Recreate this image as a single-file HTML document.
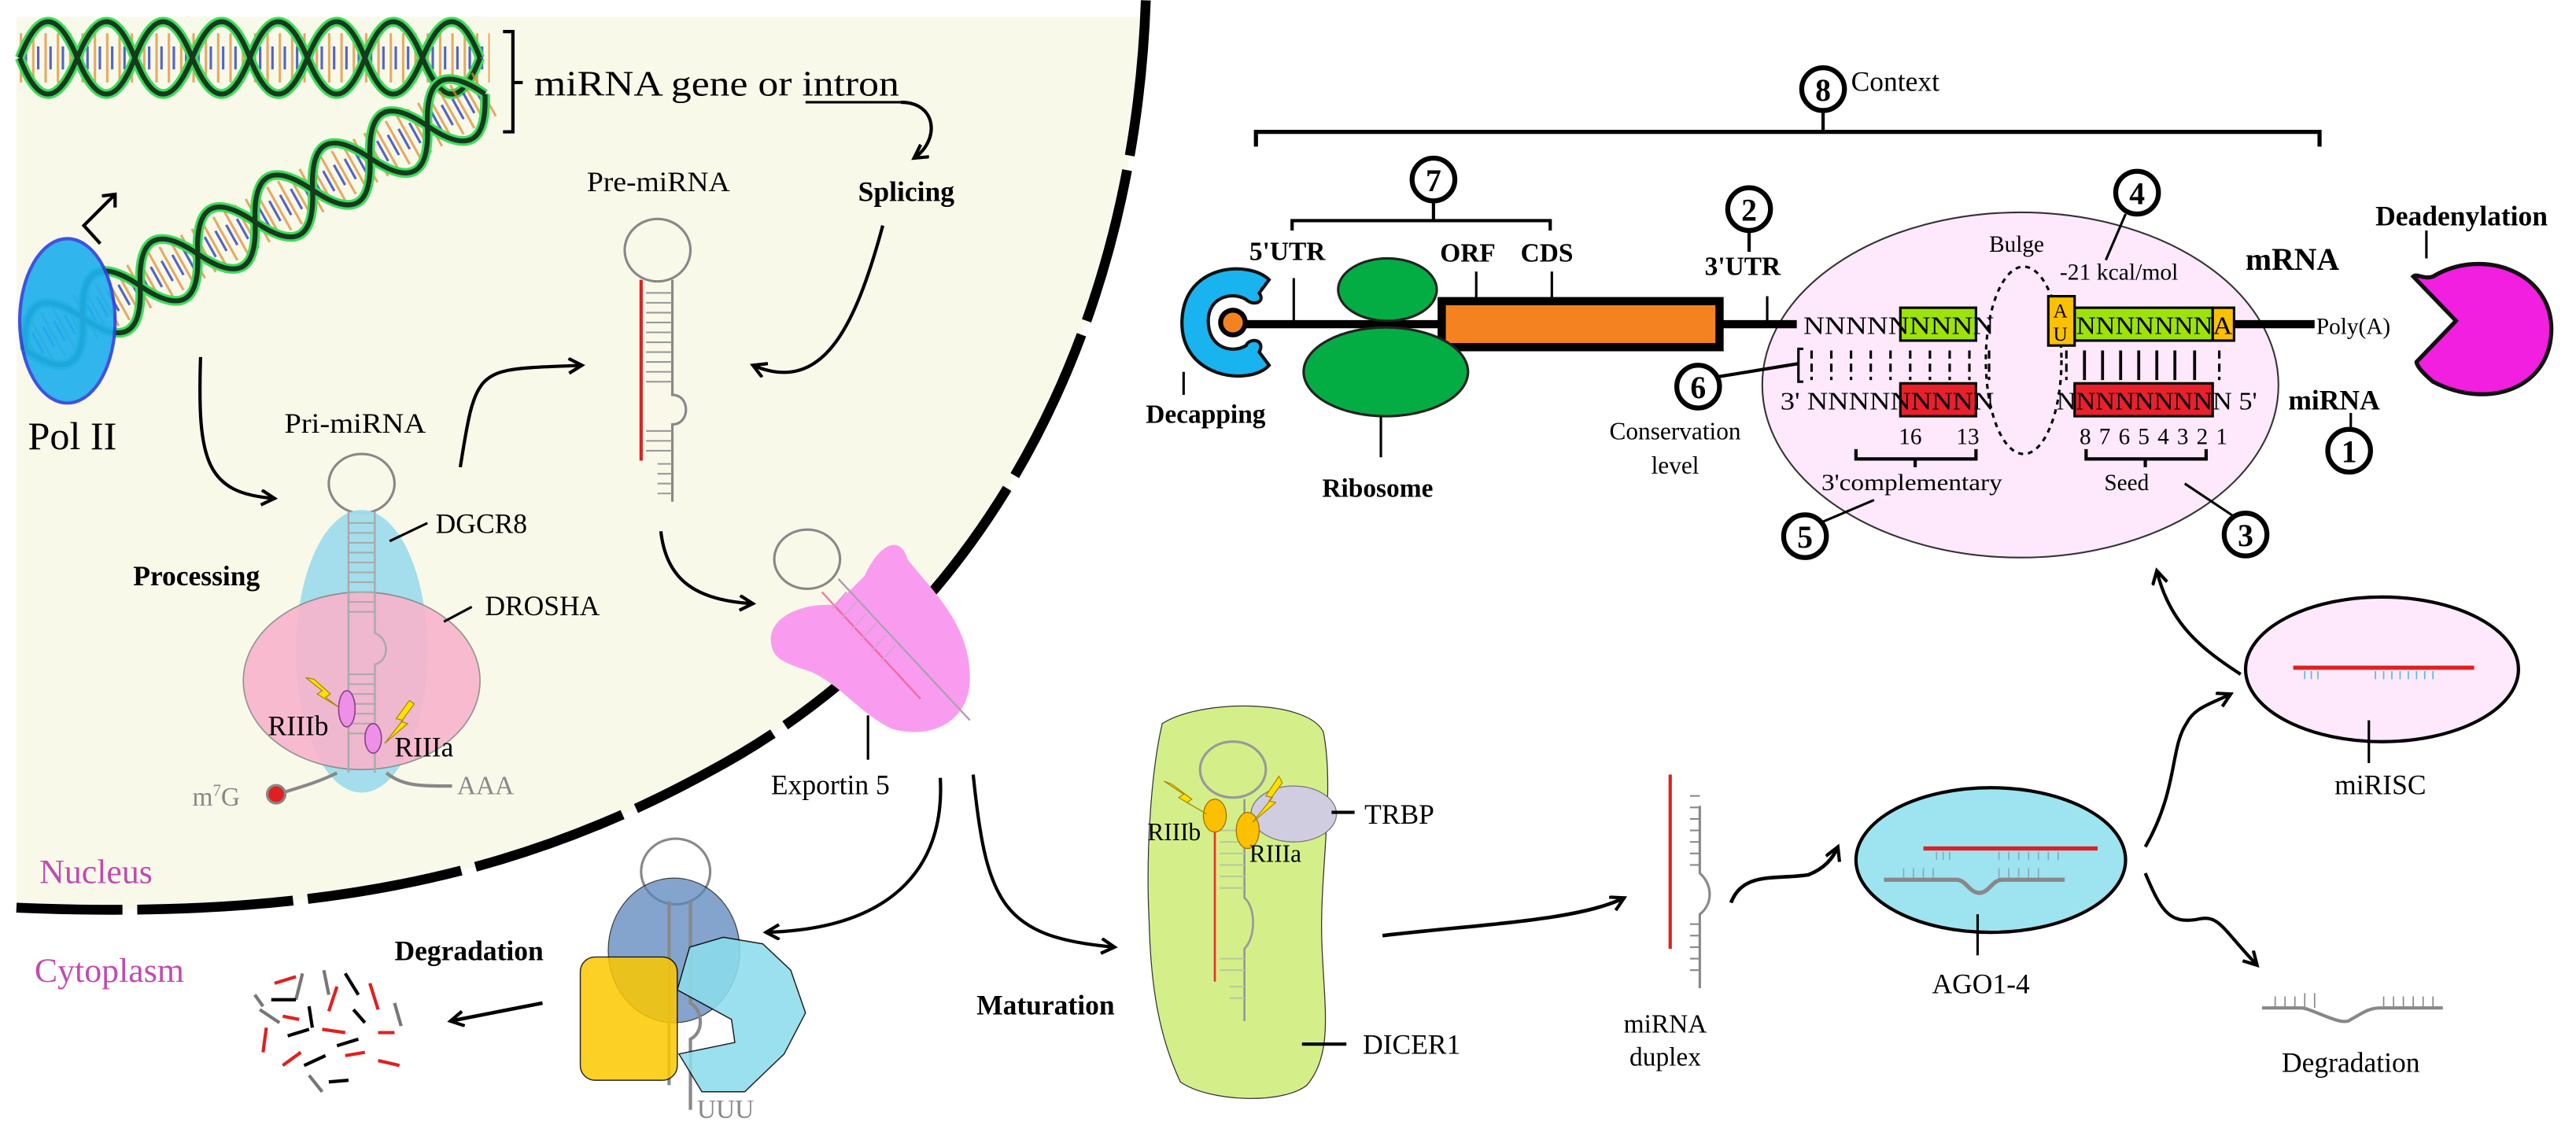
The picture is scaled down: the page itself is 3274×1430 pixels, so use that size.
<!DOCTYPE html>
<html><head><meta charset="utf-8"><style>
html,body{margin:0;padding:0;background:#fff;}
svg{display:block;font-family:"Liberation Serif","DejaVu Serif",serif;}
svg text{font-family:"Liberation Serif","DejaVu Serif",serif;}
.b{font-weight:bold;}
</style></head><body>
<svg width="3274" height="1430" viewBox="0 0 1567 684" xmlns="http://www.w3.org/2000/svg">
<defs>
<marker id="ar" markerWidth="12" markerHeight="12" refX="9" refY="5" orient="auto" markerUnits="userSpaceOnUse">
<path d="M1,0.5 L9,5 L1,9.5" fill="none" stroke="#000" stroke-width="2"/>
</marker>
</defs>
<rect width="1567" height="684" fill="#fff"/>
<path d="M10,10 L697,10 L697,0 C690,200 600,380 430,470 C320,530 200,560 10,552 Z" fill="#f9f9ea"/>
<path d="M697,0 C690,200 600,380 430,470 C320,530 200,560 10,552" fill="none" stroke="#000" stroke-width="6" stroke-dasharray="95 9"/>

<g>
<line x1="12" y1="35" x2="298" y2="35" stroke="#e08a2a" stroke-width="30" stroke-dasharray="1.5 6" opacity="0.7"/>
<line x1="15" y1="35" x2="298" y2="35" stroke="#2840c0" stroke-width="14" stroke-dasharray="1.5 6" opacity="0.8"/>
<path d="M12,35 Q29,-9 47,35 T82,35 T117,35 T152,35 T187,35 T222,35 T257,35 T292,35" fill="none" stroke="#3ddc5c" stroke-width="6"/>
<path d="M12,35 Q29,79 47,35 T82,35 T117,35 T152,35 T187,35 T222,35 T257,35 T292,35" fill="none" stroke="#3ddc5c" stroke-width="6"/>
<path d="M12,35 Q29,-9 47,35 T82,35 T117,35 T152,35 T187,35 T222,35 T257,35 T292,35" fill="none" stroke="#163a1c" stroke-width="3"/>
<path d="M12,35 Q29,79 47,35 T82,35 T117,35 T152,35 T187,35 T222,35 T257,35 T292,35" fill="none" stroke="#163a1c" stroke-width="3"/>
</g>
<g transform="translate(295,57) rotate(150.9)">
<line x1="0" y1="0" x2="320" y2="0" stroke="#e08a2a" stroke-width="30" stroke-dasharray="1.5 6" opacity="0.7"/>
<line x1="3" y1="0" x2="320" y2="0" stroke="#2840c0" stroke-width="14" stroke-dasharray="1.5 6" opacity="0.8"/>
<path d="M0,0 Q20,-40 40,0 T80,0 T120,0 T160,0 T200,0 T240,0 T280,0 T320,0" fill="none" stroke="#3ddc5c" stroke-width="6"/>
<path d="M0,0 Q20,40 40,0 T80,0 T120,0 T160,0 T200,0 T240,0 T280,0 T320,0" fill="none" stroke="#3ddc5c" stroke-width="6"/>
<path d="M0,0 Q20,-40 40,0 T80,0 T120,0 T160,0 T200,0 T240,0 T280,0 T320,0" fill="none" stroke="#163a1c" stroke-width="3"/>
<path d="M0,0 Q20,40 40,0 T80,0 T120,0 T160,0 T200,0 T240,0 T280,0 T320,0" fill="none" stroke="#163a1c" stroke-width="3"/>
</g>
<ellipse cx="41" cy="195" rx="29" ry="50" fill="#1fb0ee" stroke="#3344dd" stroke-width="2" opacity="0.92"/>
<path d="M61,148 L51,137 L70,118" fill="none" stroke="#000" stroke-width="2"/>
<path d="M62,119 L70,118 L70,126" fill="none" stroke="#000" stroke-width="2"/>
<text x="17" y="273" font-size="24">Pol II</text>

<path d="M306,19 L312,19 L312,80 L306,80 M312,50 L318,50" fill="none" stroke="#000" stroke-width="2"/>
<text x="325" y="58" font-size="22" textLength="222" lengthAdjust="spacingAndGlyphs">miRNA gene or intron</text>
<line x1="490" y1="62" x2="548" y2="62" stroke="#000" stroke-width="1.5"/>
<path d="M548,62 C570,62 572,85 556,96" fill="none" stroke="#000" stroke-width="2" marker-end="url(#ar)"/>
<text x="522" y="122" font-size="17" class="b">Splicing</text>
<path d="M537,137 C520,200 500,240 458,222" fill="none" stroke="#000" stroke-width="2" marker-end="url(#ar)"/>

<text x="357" y="116" font-size="17" textLength="87" lengthAdjust="spacingAndGlyphs">Pre-miRNA</text>
<ellipse cx="400" cy="152" rx="20" ry="19" fill="none" stroke="#888" stroke-width="1.5"/>
<line x1="390" y1="170" x2="390" y2="280" stroke="#e02020" stroke-width="2"/>
<path d="M409,170 L409,240 C420,240 420,258 409,258 L409,305" fill="none" stroke="#888" stroke-width="1.5"/>
<g stroke="#999" stroke-width="1">
<line x1="393" y1="178" x2="409" y2="178"/><line x1="393" y1="184" x2="409" y2="184"/><line x1="393" y1="190" x2="409" y2="190"/><line x1="393" y1="196" x2="409" y2="196"/><line x1="393" y1="202" x2="409" y2="202"/><line x1="393" y1="208" x2="409" y2="208"/><line x1="393" y1="214" x2="409" y2="214"/><line x1="393" y1="220" x2="409" y2="220"/><line x1="393" y1="226" x2="409" y2="226"/><line x1="393" y1="232" x2="409" y2="232"/><line x1="393" y1="262" x2="409" y2="262"/><line x1="393" y1="268" x2="409" y2="268"/><line x1="393" y1="274" x2="409" y2="274"/><line x1="400" y1="282" x2="409" y2="282"/><line x1="400" y1="288" x2="409" y2="288"/><line x1="400" y1="294" x2="409" y2="294"/><line x1="400" y1="300" x2="409" y2="300"/>
</g>
<path d="M122,217 C120,280 125,300 167,303" fill="none" stroke="#000" stroke-width="2" marker-end="url(#ar)"/>
<path d="M280,284 C290,220 290,225 354,222" fill="none" stroke="#000" stroke-width="2" marker-end="url(#ar)"/>

<text x="173" y="263" font-size="17" textLength="86" lengthAdjust="spacingAndGlyphs">Pri-miRNA</text>
<ellipse cx="220" cy="294" rx="20" ry="18" fill="none" stroke="#888" stroke-width="1.5"/>
<ellipse cx="220" cy="396" rx="40" ry="86" fill="#9fdcec" opacity="0.95"/>
<ellipse cx="220" cy="414" rx="72" ry="54" fill="#f8b4cc" stroke="#888" stroke-width="0.8" opacity="0.9"/>
<path d="M212,311 L212,470 M228,311 L228,385 C237,388 237,402 228,404 L228,470" fill="none" stroke="#aaa" stroke-width="1.2"/>
<g stroke="#aaa" stroke-width="1"><line x1="212" y1="318" x2="228" y2="318"/><line x1="212" y1="324" x2="228" y2="324"/><line x1="212" y1="330" x2="228" y2="330"/><line x1="212" y1="336" x2="228" y2="336"/><line x1="212" y1="342" x2="228" y2="342"/><line x1="212" y1="348" x2="228" y2="348"/><line x1="212" y1="354" x2="228" y2="354"/><line x1="212" y1="360" x2="228" y2="360"/><line x1="212" y1="366" x2="228" y2="366"/><line x1="212" y1="372" x2="228" y2="372"/><line x1="212" y1="410" x2="228" y2="410"/><line x1="212" y1="416" x2="228" y2="416"/><line x1="212" y1="422" x2="228" y2="422"/><line x1="212" y1="428" x2="228" y2="428"/><line x1="212" y1="434" x2="228" y2="434"/><line x1="212" y1="440" x2="228" y2="440"/><line x1="212" y1="446" x2="228" y2="446"/></g>
<text x="81" y="356" font-size="17" class="b">Processing</text>
<line x1="237" y1="329" x2="260" y2="318" stroke="#000" stroke-width="1.5"/>
<text x="265" y="324" font-size="17">DGCR8</text>
<line x1="270" y1="378" x2="287" y2="369" stroke="#000" stroke-width="1.5"/>
<text x="295" y="374" font-size="17">DROSHA</text>
<ellipse cx="211" cy="431" rx="5" ry="11" fill="#ee90e8" stroke="#884488" stroke-width="0.8"/>
<ellipse cx="227" cy="449" rx="5" ry="9" fill="#ee90e8" stroke="#884488" stroke-width="0.8"/>
<path d="M186,412 L196,420 L193,422 L206,430 L198,424 L201,422 L191,413 Z" fill="#ffe000" stroke="#aa8800" stroke-width="0.6"/>
<path d="M249,426 L241,437 L245,438 L234,452 L248,440 L244,439 L252,428 Z" fill="#ffe000" stroke="#aa8800" stroke-width="0.6"/>
<text x="163" y="447" font-size="17">RIIIb</text>
<text x="240" y="460" font-size="17">RIIIa</text>
<path d="M172,482 C185,478 195,475 205,470 M235,470 C245,478 255,478 275,478" fill="none" stroke="#888" stroke-width="2"/>
<circle cx="168" cy="483" r="5.5" fill="#e02020" stroke="#888" stroke-width="1.5"/>
<text x="117" y="490" font-size="16" fill="#888">m<tspan font-size="10" dy="-6">7</tspan><tspan dy="6">G</tspan></text>
<text x="278" y="483" font-size="16" fill="#888">AAA</text>
<text x="24" y="537" font-size="21" fill="#c04cb0">Nucleus</text>
<text x="21" y="597" font-size="21" fill="#c04cb0">Cytoplasm</text>

<path d="M402,323 C405,350 420,365 458,367" fill="none" stroke="#000" stroke-width="2" marker-end="url(#ar)"/>
<ellipse cx="491" cy="340" rx="20" ry="18" fill="none" stroke="#888" stroke-width="1.5"/>
<path d="M470,395 C463,375 490,366 508,368 L526,350 C535,330 548,325 552,340 C568,360 590,380 590,412 C590,440 565,450 542,443 C522,433 510,415 492,408 C476,403 472,400 470,395 Z" fill="#f99cf0"/>
<line x1="500" y1="360" x2="560" y2="425" stroke="#f06090" stroke-width="1.2" opacity="0.8"/>
<line x1="510" y1="352" x2="590" y2="438" stroke="#b0a0b0" stroke-width="1.2"/>
<g stroke="#d8a0d8" stroke-width="1"><line x1="506" y1="370" x2="515" y2="360"/><line x1="512" y1="376" x2="521" y2="366"/><line x1="518" y1="383" x2="527" y2="373"/><line x1="524" y1="389" x2="533" y2="379"/><line x1="530" y1="396" x2="539" y2="386"/><line x1="536" y1="402" x2="545" y2="392"/></g>
<line x1="528" y1="435" x2="528" y2="462" stroke="#000" stroke-width="1.5"/>
<text x="469" y="483" font-size="17">Exportin 5</text>
<path d="M572,473 C575,530 540,565 466,567" fill="none" stroke="#000" stroke-width="2" marker-end="url(#ar)"/>
<path d="M592,471 C600,550 610,570 678,576" fill="none" stroke="#000" stroke-width="2" marker-end="url(#ar)"/>

<ellipse cx="411" cy="530" rx="21" ry="20" fill="none" stroke="#888" stroke-width="1.5"/>
<ellipse cx="410" cy="578" rx="40" ry="44" fill="#5b86bd" opacity="0.75" stroke="#000" stroke-width="0.6"/>
<path d="M407,548 L407,660 M420,548 L420,610 C428,615 428,628 420,632 L420,675" fill="none" stroke="#888" stroke-width="2"/>
<rect x="353" y="582" width="59" height="75" rx="9" fill="#fcc800" opacity="0.85" stroke="#000" stroke-width="0.7"/>
<polygon points="419.5,576 440,570 464,574 481,590 490,616 477,641 453,664 427,664 413,641 447,634 445,620 412,602" fill="#8ddcec" opacity="0.88" stroke="#000" stroke-width="0.7"/>
<text x="424" y="680" font-size="16" fill="#888">UUU</text>
<text x="240" y="584" font-size="17" class="b">Degradation</text>
<path d="M330,610 L274,621" fill="none" stroke="#000" stroke-width="2.2" marker-end="url(#ar)"/>
<g stroke-width="2">
<line x1="167" y1="598" x2="180" y2="594" stroke="#e02020"/><line x1="184" y1="592" x2="180" y2="608" stroke="#777"/><line x1="158" y1="614" x2="170" y2="622" stroke="#777"/><line x1="165" y1="608" x2="180" y2="608" stroke="#000"/><line x1="197" y1="590" x2="200" y2="605" stroke="#777"/><line x1="210" y1="592" x2="218" y2="605" stroke="#000"/><line x1="205" y1="600" x2="200" y2="615" stroke="#e02020"/><line x1="225" y1="598" x2="230" y2="614" stroke="#e02020"/><line x1="172" y1="618" x2="182" y2="620" stroke="#e02020"/><line x1="188" y1="612" x2="190" y2="625" stroke="#000"/><line x1="215" y1="614" x2="222" y2="622" stroke="#000"/><line x1="162" y1="625" x2="160" y2="640" stroke="#e02020"/><line x1="175" y1="630" x2="188" y2="626" stroke="#000"/><line x1="196" y1="626" x2="210" y2="628" stroke="#e02020"/><line x1="205" y1="636" x2="218" y2="632" stroke="#000"/><line x1="230" y1="628" x2="240" y2="628" stroke="#e02020"/><line x1="172" y1="648" x2="183" y2="640" stroke="#e02020"/><line x1="185" y1="648" x2="198" y2="642" stroke="#000"/><line x1="210" y1="642" x2="222" y2="640" stroke="#e02020"/><line x1="230" y1="645" x2="243" y2="648" stroke="#e02020"/><line x1="188" y1="654" x2="196" y2="664" stroke="#777"/><line x1="200" y1="658" x2="212" y2="657" stroke="#000"/><line x1="155" y1="605" x2="160" y2="612" stroke="#777"/><line x1="240" y1="610" x2="244" y2="624" stroke="#777"/></g>
<text x="594" y="617" font-size="17" class="b">Maturation</text>

<path d="M707,440 C730,425 795,425 805,445 C812,480 803,530 804,570 C805,610 812,640 795,660 C780,672 735,670 718,658 C705,630 700,600 699,560 C697,520 700,470 707,440 Z" fill="#d4ef8a" stroke="#333" stroke-width="0.6"/>
<ellipse cx="750" cy="468" rx="20" ry="17" fill="none" stroke="#999" stroke-width="1.5"/>
<ellipse cx="787" cy="495" rx="26" ry="17" fill="#d0cde0" stroke="#777" stroke-width="0.6"/>
<line x1="739" y1="490" x2="739" y2="597" stroke="#ee3030" stroke-width="1.3"/>
<path d="M757,486 L757,546 C764,552 764,570 757,577 L757,621" fill="none" stroke="#999" stroke-width="1.3"/>
<g stroke="#b9c99a" stroke-width="1"><line x1="742" y1="505" x2="757" y2="505"/><line x1="742" y1="512" x2="757" y2="512"/><line x1="742" y1="519" x2="757" y2="519"/><line x1="742" y1="526" x2="757" y2="526"/><line x1="742" y1="533" x2="757" y2="533"/><line x1="742" y1="540" x2="757" y2="540"/><line x1="742" y1="583" x2="757" y2="583"/><line x1="742" y1="590" x2="757" y2="590"/><line x1="748" y1="600" x2="757" y2="600"/><line x1="748" y1="607" x2="757" y2="607"/></g>
<ellipse cx="739" cy="496" rx="7" ry="10" fill="#fbc000" stroke="#a07000" stroke-width="0.6"/>
<ellipse cx="759" cy="505" rx="7" ry="11" fill="#fbc000" stroke="#a07000" stroke-width="0.6"/>
<path d="M708,475 L720,483 L717,485 L734,495 L722,488 L725,486 L713,477 Z" fill="#ffe000" stroke="#aa8800" stroke-width="0.6"/>
<path d="M778,472 L770,484 L774,485 L762,500 L776,488 L772,487 L780,476 Z" fill="#ffe000" stroke="#aa8800" stroke-width="0.6"/>
<text x="698" y="511" font-size="15">RIIIb</text>
<text x="760" y="524" font-size="15">RIIIa</text>
<line x1="810" y1="494" x2="824" y2="494" stroke="#000" stroke-width="2"/>
<text x="830" y="501" font-size="17">TRBP</text>
<line x1="792" y1="635" x2="819" y2="635" stroke="#000" stroke-width="2"/>
<text x="829" y="641" font-size="17">DICER1</text>
<path d="M841,569 C900,562 960,560 988,546" fill="none" stroke="#000" stroke-width="2.2" marker-end="url(#ar)"/>

<line x1="1016" y1="471" x2="1016" y2="577" stroke="#e02020" stroke-width="2"/>
<path d="M1034,490 L1034,531 C1042,538 1042,550 1034,556 L1034,601" fill="none" stroke="#888" stroke-width="1.5"/>
<g stroke="#888" stroke-width="1"><line x1="1028" y1="484" x2="1034" y2="484"/><line x1="1028" y1="491" x2="1034" y2="491"/><line x1="1028" y1="498" x2="1034" y2="498"/><line x1="1028" y1="505" x2="1034" y2="505"/><line x1="1028" y1="512" x2="1034" y2="512"/><line x1="1028" y1="519" x2="1034" y2="519"/><line x1="1028" y1="526" x2="1034" y2="526"/><line x1="1028" y1="562" x2="1034" y2="562"/><line x1="1028" y1="569" x2="1034" y2="569"/><line x1="1028" y1="576" x2="1034" y2="576"/><line x1="1028" y1="583" x2="1034" y2="583"/><line x1="1028" y1="590" x2="1034" y2="590"/></g>
<text x="1013" y="628" font-size="16" text-anchor="middle">miRNA</text>
<text x="1013" y="648" font-size="16" text-anchor="middle">duplex</text>
<path d="M1053,549 C1060,530 1080,535 1100,532 C1110,528 1115,522 1118,515" fill="none" stroke="#000" stroke-width="2.2" marker-end="url(#ar)"/>

<ellipse cx="1211" cy="523" rx="82" ry="44" fill="#9ee3f0" stroke="#000" stroke-width="2"/>
<line x1="1170" y1="516" x2="1276" y2="516" stroke="#e02020" stroke-width="2.5"/>
<g stroke="#88aabb" stroke-width="0.8"><line x1="1178" y1="518" x2="1178" y2="523"/><line x1="1182" y1="518" x2="1182" y2="523"/><line x1="1186" y1="518" x2="1186" y2="523"/><line x1="1216" y1="518" x2="1216" y2="523"/><line x1="1222" y1="518" x2="1222" y2="523"/><line x1="1228" y1="518" x2="1228" y2="523"/><line x1="1234" y1="518" x2="1234" y2="523"/><line x1="1240" y1="518" x2="1240" y2="523"/><line x1="1246" y1="518" x2="1246" y2="523"/><line x1="1252" y1="518" x2="1252" y2="523"/><line x1="1158" y1="528" x2="1158" y2="535"/><line x1="1164" y1="528" x2="1164" y2="535"/><line x1="1170" y1="528" x2="1170" y2="535"/><line x1="1176" y1="528" x2="1176" y2="535"/><line x1="1216" y1="528" x2="1216" y2="535"/><line x1="1222" y1="528" x2="1222" y2="535"/><line x1="1228" y1="528" x2="1228" y2="535"/><line x1="1234" y1="528" x2="1234" y2="535"/><line x1="1240" y1="528" x2="1240" y2="535"/></g>
<path d="M1146,535 L1190,535 C1196,535 1198,543 1204,543 C1210,543 1212,535 1218,535 L1256,535" fill="none" stroke="#888" stroke-width="2.5"/>
<line x1="1203" y1="556" x2="1203" y2="581" stroke="#000" stroke-width="1.5"/>
<text x="1205" y="604" font-size="17" text-anchor="middle">AGO1-4</text>
<path d="M1305,515 C1325,480 1320,455 1330,440 C1335,430 1345,428 1357,422" fill="none" stroke="#000" stroke-width="2" marker-end="url(#ar)"/>
<path d="M1305,531 C1315,555 1320,562 1337,559 C1350,556 1352,565 1373,587" fill="none" stroke="#000" stroke-width="2" marker-end="url(#ar)"/>
<path d="M1376,613 L1400,613 C1406,613 1425,625 1430,620 C1436,617 1440,613 1448,613 L1486,613" fill="none" stroke="#888" stroke-width="2"/>
<g stroke="#888" stroke-width="0.8"><line x1="1384" y1="606" x2="1384" y2="613"/><line x1="1390" y1="606" x2="1390" y2="613"/><line x1="1396" y1="606" x2="1396" y2="613"/><line x1="1402" y1="604" x2="1402" y2="613"/><line x1="1408" y1="604" x2="1408" y2="613"/><line x1="1450" y1="606" x2="1450" y2="613"/><line x1="1456" y1="606" x2="1456" y2="613"/><line x1="1462" y1="606" x2="1462" y2="613"/><line x1="1468" y1="606" x2="1468" y2="613"/><line x1="1474" y1="606" x2="1474" y2="613"/><line x1="1480" y1="606" x2="1480" y2="613"/></g>
<text x="1430" y="652" font-size="17" text-anchor="middle">Degradation</text>

<ellipse cx="1449" cy="407" rx="83" ry="44" fill="#fde9fb" stroke="#000" stroke-width="2"/>
<line x1="1395" y1="406" x2="1505" y2="406" stroke="#e02020" stroke-width="2.5"/>
<g stroke="#55bbdd" stroke-width="0.8"><line x1="1402" y1="408" x2="1402" y2="413"/><line x1="1406" y1="408" x2="1406" y2="413"/><line x1="1410" y1="408" x2="1410" y2="413"/><line x1="1445" y1="408" x2="1445" y2="413"/><line x1="1450" y1="408" x2="1450" y2="413"/><line x1="1455" y1="408" x2="1455" y2="413"/><line x1="1460" y1="408" x2="1460" y2="413"/><line x1="1465" y1="408" x2="1465" y2="413"/><line x1="1470" y1="408" x2="1470" y2="413"/><line x1="1475" y1="408" x2="1475" y2="413"/><line x1="1480" y1="408" x2="1480" y2="413"/></g>
<line x1="1441" y1="438" x2="1441" y2="464" stroke="#000" stroke-width="1.5"/>
<text x="1448" y="483" font-size="17" text-anchor="middle">miRISC</text>
<path d="M1363,410 C1340,395 1320,380 1312,347" fill="none" stroke="#000" stroke-width="2" marker-end="url(#ar)"/>

<ellipse cx="1229" cy="234" rx="157" ry="105" fill="#fde9fb" stroke="#333" stroke-width="1"/>
<path d="M764,89 L764,80 L1411,80 L1411,89" fill="none" stroke="#000" stroke-width="2.5"/>
<line x1="1109" y1="68" x2="1109" y2="80" stroke="#000" stroke-width="2"/>
<ellipse cx="1109" cy="54" rx="13" ry="13" fill="#fff" stroke="#000" stroke-width="3"/>
<text x="1109" y="61" font-size="19" class="b" text-anchor="middle">8</text>
<text x="1126" y="55" font-size="17">Context</text>
<path d="M786,140 L786,134 L943,134 L943,140" fill="none" stroke="#000" stroke-width="2"/>
<line x1="872" y1="122" x2="872" y2="134" stroke="#000" stroke-width="2"/>
<ellipse cx="872" cy="109" rx="13" ry="13" fill="#fff" stroke="#000" stroke-width="3"/>
<text x="872" y="116" font-size="19" class="b" text-anchor="middle">7</text>
<text x="760" y="158" font-size="16" class="b">5'UTR</text>
<text x="876" y="159" font-size="16" class="b">ORF</text>
<text x="925" y="159" font-size="16" class="b">CDS</text>
<line x1="787" y1="169" x2="787" y2="195" stroke="#000" stroke-width="1.5"/>
<line x1="898" y1="165" x2="898" y2="181" stroke="#000" stroke-width="1.5"/>
<line x1="944" y1="165" x2="944" y2="181" stroke="#000" stroke-width="1.5"/>
<line x1="1064" y1="140" x2="1064" y2="153" stroke="#000" stroke-width="2"/>
<ellipse cx="1064" cy="127" rx="13" ry="13" fill="#fff" stroke="#000" stroke-width="3"/>
<text x="1064" y="134" font-size="19" class="b" text-anchor="middle">2</text>
<text x="1037" y="167" font-size="16" class="b">3'UTR</text>
<line x1="1075" y1="180" x2="1075" y2="196" stroke="#000" stroke-width="1.5"/>
<line x1="750" y1="197" x2="1093" y2="197" stroke="#000" stroke-width="5"/>
<line x1="1359" y1="197" x2="1408" y2="197" stroke="#000" stroke-width="5"/>
<rect x="877" y="183" width="169" height="28" fill="#f58220" stroke="#000" stroke-width="5"/>
<text x="1409" y="203" font-size="14">Poly(A)</text>
<ellipse cx="844" cy="176" rx="30" ry="19" fill="#04ad43" stroke="#222" stroke-width="1.5"/>
<ellipse cx="843" cy="226" rx="50" ry="27" fill="#04ad43" stroke="#222" stroke-width="1.5"/>
<line x1="840" y1="253" x2="840" y2="278" stroke="#000" stroke-width="1.5"/>
<text x="838" y="302" font-size="16" class="b" text-anchor="middle">Ribosome</text>
<path d="M772,170 C760,158 720,160 719,195 C718,230 760,235 772,222 L766,214 C770,206 760,205 758,210 C750,215 735,212 735,195 C735,180 750,177 758,182 C762,186 770,184 766,178 Z" fill="#19b4f0" stroke="#111" stroke-width="2"/>
<circle cx="750" cy="196" r="9" fill="#000"/>
<circle cx="750" cy="196" r="6" fill="#f58220"/>
<line x1="720" y1="226" x2="720" y2="240" stroke="#000" stroke-width="1.5"/>
<text x="697" y="257" font-size="16" class="b">Decapping</text>
<path d="M1480,168 C1510,150 1552,165 1552,200 C1552,235 1515,250 1480,232 C1473,226 1470,222 1470,220 L1494,195 L1468,168 C1470,166 1475,170 1480,168 Z" fill="#f21ee0" stroke="#111" stroke-width="2.5"/>
<line x1="1476" y1="140" x2="1476" y2="157" stroke="#000" stroke-width="1.5"/>
<text x="1445" y="137" font-size="17" class="b">Deadenylation</text>
<text x="1366" y="164" font-size="19" class="b">mRNA</text>
<ellipse cx="1300" cy="117" rx="13" ry="13" fill="#fff" stroke="#000" stroke-width="3"/>
<text x="1300" y="124" font-size="19" class="b" text-anchor="middle">4</text>
<line x1="1293" y1="130" x2="1281" y2="158" stroke="#000" stroke-width="1.5"/>
<text x="1210" y="153" font-size="14">Bulge</text>
<text x="1253" y="170" font-size="14" textLength="72" lengthAdjust="spacingAndGlyphs">-21 kcal/mol</text>
<ellipse cx="1231" cy="219" rx="23" ry="57" fill="none" stroke="#000" stroke-width="1.5" stroke-dasharray="3 3"/>
<rect x="1156" y="187" width="46" height="20" fill="#9de30a" stroke="#000" stroke-width="1.5"/>
<rect x="1262" y="187" width="84" height="20" fill="#9de30a" stroke="#000" stroke-width="1.5"/>
<rect x="1246" y="180" width="16" height="30" fill="#fbc000" stroke="#000" stroke-width="1.5"/>
<rect x="1346" y="187" width="13" height="20" fill="#fbc000" stroke="#000" stroke-width="1.5"/>
<text x="1097" y="203" font-size="15" textLength="116" lengthAdjust="spacingAndGlyphs">NNNNNNNNN</text>
<text x="1249" y="193" font-size="12">A</text>
<text x="1249" y="207" font-size="12">U</text>
<text x="1263" y="203" font-size="15" textLength="95" lengthAdjust="spacingAndGlyphs">NNNNNNNA</text>
<path d="M1097,212 L1094,212 L1094,232 L1097,232" fill="none" stroke="#000" stroke-width="1.5"/>
<g stroke="#000" stroke-width="1.5" stroke-dasharray="5 3"><line x1="1102" y1="213" x2="1102" y2="231"/><line x1="1114" y1="213" x2="1114" y2="231"/><line x1="1126" y1="213" x2="1126" y2="231"/><line x1="1138" y1="213" x2="1138" y2="231"/><line x1="1150" y1="213" x2="1150" y2="231"/><line x1="1162" y1="213" x2="1162" y2="231"/><line x1="1174" y1="213" x2="1174" y2="231"/><line x1="1186" y1="213" x2="1186" y2="231"/><line x1="1198" y1="213" x2="1198" y2="231"/><line x1="1210" y1="213" x2="1210" y2="231"/><line x1="1257" y1="213" x2="1257" y2="231"/><line x1="1350" y1="213" x2="1350" y2="231"/></g>
<g stroke="#000" stroke-width="1.8"><line x1="1268" y1="213" x2="1268" y2="231"/><line x1="1279" y1="213" x2="1279" y2="231"/><line x1="1290" y1="213" x2="1290" y2="231"/><line x1="1301" y1="213" x2="1301" y2="231"/><line x1="1312" y1="213" x2="1312" y2="231"/><line x1="1323" y1="213" x2="1323" y2="231"/><line x1="1335" y1="213" x2="1335" y2="231"/></g>
<rect x="1156" y="233" width="46" height="20" fill="#e8202a" stroke="#000" stroke-width="1.5"/>
<rect x="1262" y="233" width="84" height="20" fill="#e8202a" stroke="#000" stroke-width="1.5"/>
<text x="1083" y="249" font-size="15" textLength="130" lengthAdjust="spacingAndGlyphs">3' NNNNNNNNN</text>
<text x="1251" y="249" font-size="15" textLength="122" lengthAdjust="spacingAndGlyphs">NNNNNNNNN 5'</text>
<text x="1162" y="270" font-size="14" text-anchor="middle">16</text>
<text x="1197" y="270" font-size="14" text-anchor="middle">13</text>
<text x="1265" y="270" font-size="14" textLength="90" lengthAdjust="spacing">87654321</text>
<path d="M1129,273 L1129,279 L1202,279 L1202,273 M1165,279 L1165,284" fill="none" stroke="#000" stroke-width="2"/>
<path d="M1269,273 L1269,279 L1342,279 L1342,273 M1305,279 L1305,284" fill="none" stroke="#000" stroke-width="2"/>
<text x="1108" y="298" font-size="14" textLength="110" lengthAdjust="spacingAndGlyphs">3'complementary</text>
<text x="1280" y="298" font-size="14">Seed</text>
<text x="1392" y="249" font-size="17" class="b">miRNA</text>
<line x1="1430" y1="251" x2="1430" y2="262" stroke="#000" stroke-width="1.5"/>
<ellipse cx="1429" cy="274" rx="13" ry="13" fill="#fff" stroke="#000" stroke-width="3"/>
<text x="1429" y="281" font-size="19" class="b" text-anchor="middle">1</text>
<line x1="1045" y1="229" x2="1094" y2="221" stroke="#000" stroke-width="2"/>
<ellipse cx="1033" cy="235" rx="13" ry="13" fill="#fff" stroke="#000" stroke-width="3"/>
<text x="1033" y="242" font-size="19" class="b" text-anchor="middle">6</text>
<text x="1019" y="267" font-size="15" text-anchor="middle">Conservation</text>
<text x="1019" y="288" font-size="15" text-anchor="middle">level</text>
<line x1="1107" y1="318" x2="1140" y2="304" stroke="#000" stroke-width="1.5"/>
<ellipse cx="1098" cy="326" rx="13" ry="13" fill="#fff" stroke="#000" stroke-width="3"/>
<text x="1098" y="333" font-size="19" class="b" text-anchor="middle">5</text>
<line x1="1329" y1="294" x2="1359" y2="314" stroke="#000" stroke-width="1.5"/>
<ellipse cx="1366" cy="325" rx="13" ry="13" fill="#fff" stroke="#000" stroke-width="3"/>
<text x="1366" y="332" font-size="19" class="b" text-anchor="middle">3</text>
</svg>
</body></html>
